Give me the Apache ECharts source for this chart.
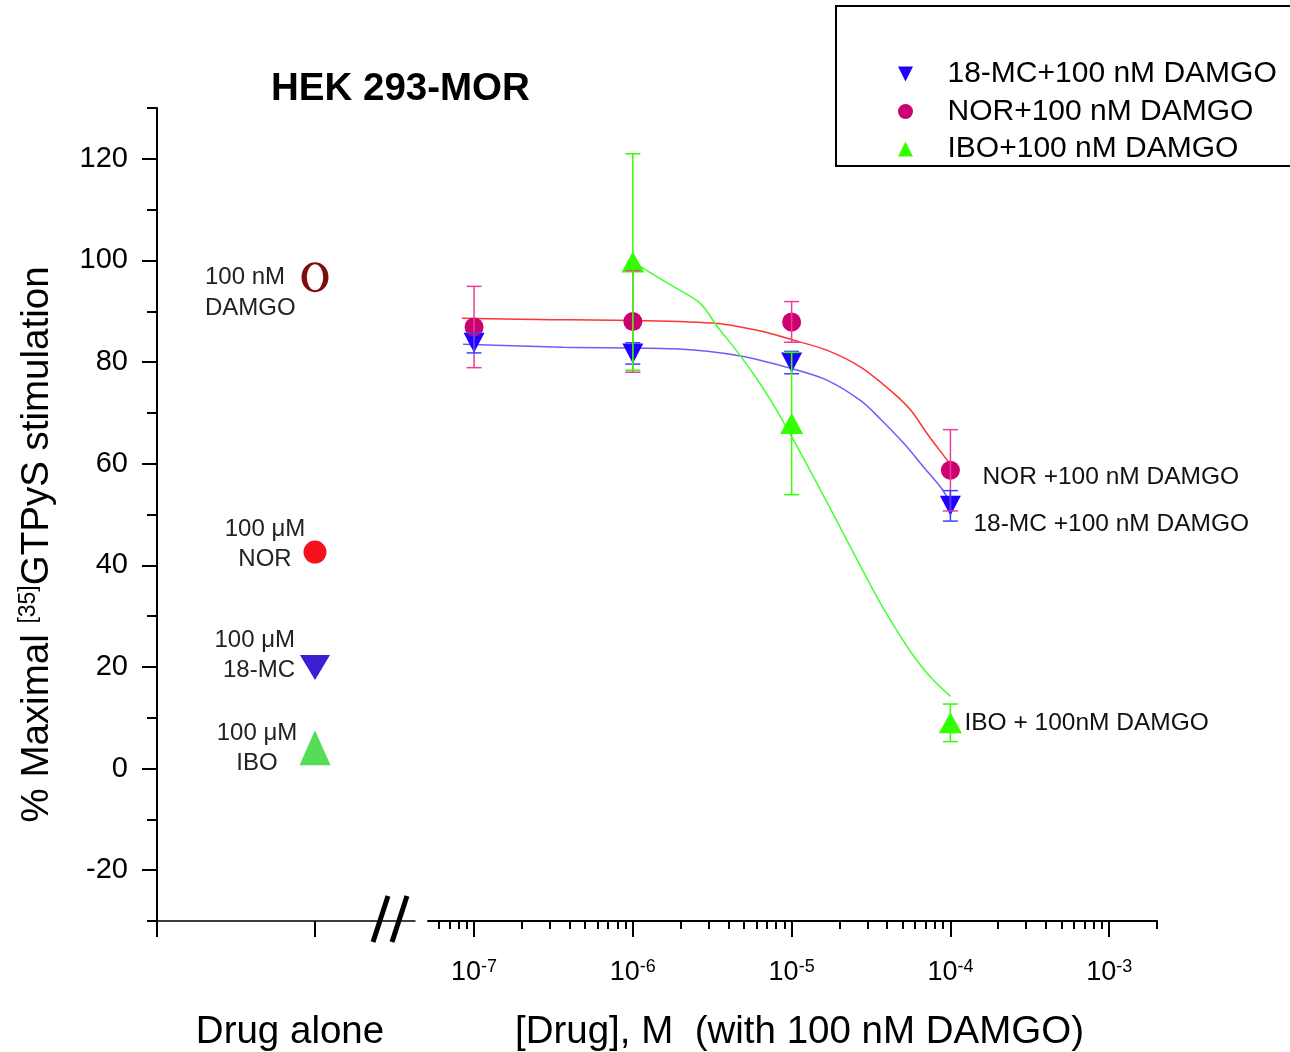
<!DOCTYPE html>
<html><head><meta charset="utf-8">
<script src="https://cdn.jsdelivr.net/npm/echarts@6/dist/echarts.min.js"></script>
<style>html,body{margin:0;padding:0;background:#fff}#c{width:1290px;height:1052px}</style>
</head><body><div id="c"></div>
<script>
// ---- data ----
const concentrations = [1e-7, 1e-6, 1e-5, 1e-4];
const norMean = [86.9, 88.0, 87.9, 58.7];
const norErr  = [8.0, 10.0, 4.0, 8.0];
const mcMean  = [83.8, 81.7, 79.9, 51.7];
const mcErr   = [2.0, 2.1, 2.2, 3.0];
const iboConc = [1e-6, 1e-5, 1e-4];
const iboMean = [99.7, 67.9, 9.0];
const iboErr  = [21.3, 14.0, 3.7];

// fitted curves as drawn in the figure (log10 M, %)
const norFitLogX = [-7.076, -6.603, -6.0, -5.467, -5.196, -4.987, -4.775, -4.565, -4.355, -4.249, -4.144, -4.018, -4.0];
const norFitY    = [88.6, 88.4, 88.2, 87.6, 86.1, 84.3, 82.3, 79.0, 73.8, 70.5, 65.8, 60.6, 59.8];
const mcFitLogX  = [-7.069, -6.438, -5.744, -5.322, -4.987, -4.775, -4.565, -4.438, -4.291, -4.165, -4.060, -4.0];
const mcFitY     = [83.5, 82.9, 82.6, 81.2, 78.6, 76.4, 72.4, 68.7, 63.9, 59.2, 55.3, 52.3];
const iboFitLogX = [-6.0, -5.779, -5.577, -5.464, -5.356, -5.230, -5.123, -5.041, -4.959, -4.864, -4.757, -4.650, -4.549, -4.442, -4.334, -4.233, -4.126, -4.0];
const iboFitY    = [99.7, 95.5, 91.6, 86.8, 82.6, 77.2, 72.0, 67.6, 63.0, 57.5, 51.2, 44.8, 38.8, 32.6, 27.0, 22.2, 18.0, 14.2];

// drug alone
const aloneNames  = ['DAMGO', 'NOR', '18-MC', 'IBO'];
const aloneDose   = ['100 nM', '100 μM', '100 μM', '100 μM'];
const aloneValues = [96.7, 42.6, 19.9, 4.1];

// ticks
const yTickValues  = [-20, 0, 20, 40, 60, 80, 100, 120];
const yMinorValues = [-30, -10, 10, 30, 50, 70, 90, 110, 130];
const xDecades     = [-7, -6, -5, -4, -3];
const minorMultipliers = [2, 3, 4, 5, 6, 7, 8, 9];

const seriesNames = ['18-MC+100 nM DAMGO', 'NOR+100 nM DAMGO', 'IBO+100 nM DAMGO'];

// ---- chart ----
const FONT = 'Liberation Sans, Arial, sans-serif';
const X_MIN = -7.29, X_MAX = Math.log10(2e-3);
const xMinor = [];
[-8, -7, -6, -5, -4, -3].forEach(d => minorMultipliers.forEach(m => {
  const v = d + Math.log10(m);
  if (v >= X_MIN - 1e-9 && v <= X_MAX + 1e-9) xMinor.push(v);
}));

function zip(a, b) { return a.map((v, i) => [v, b[i]]); }

function errorBars(name, xs, means, errs, color) {
  return {
    type: 'custom', name: name, xAxisIndex: 1, yAxisIndex: 2, z: 5, silent: true,
    data: xs.map((c, i) => [Math.log10(c), means[i] - errs[i], means[i] + errs[i]]),
    encode: { x: 0, y: [1, 2] },
    renderItem: (params, api) => {
      const lo = api.coord([api.value(0), api.value(1)]);
      const hi = api.coord([api.value(0), api.value(2)]);
      const hw = 7.5;
      const style = { stroke: color, lineWidth: 1.5, fill: null };
      return { type: 'group', children: [
        { type: 'line', shape: { x1: lo[0], y1: lo[1], x2: hi[0], y2: hi[1] }, style: style },
        { type: 'line', shape: { x1: lo[0] - hw, y1: lo[1], x2: lo[0] + hw, y2: lo[1] }, style: style },
        { type: 'line', shape: { x1: hi[0] - hw, y1: hi[1], x2: hi[0] + hw, y2: hi[1] }, style: style }
      ]};
    }
  };
}

function fitLine(name, xs, ys, color) {
  return { type: 'line', name: name, xAxisIndex: 1, yAxisIndex: 2, z: 2, silent: true,
    data: zip(xs, ys), showSymbol: false, symbol: 'none', smooth: 0.3,
    lineStyle: { color: color, width: 1.5 } };
}

function mainScatter(name, xs, means, symbol, size, color, labelText, labelOffset) {
  return {
    type: 'scatter', name: name, xAxisIndex: 1, yAxisIndex: 2, z: 4,
    symbol: symbol, symbolSize: size, itemStyle: { color: color, opacity: 1 },
    data: xs.map((c, i) => {
      const item = { value: [Math.log10(c), means[i]] };
      if (i === xs.length - 1) {
        item.label = { show: true, position: 'inside', align: 'left', verticalAlign: 'middle',
          offset: labelOffset, formatter: labelText, color: '#111', fontSize: 24.5, fontFamily: FONT };
      }
      return item;
    })
  };
}

const DOWN_TRI = 'path://M0,0 L10,0 L5,10 Z';
const UP_TRI = 'path://M5,0 L10,10 L0,10 Z';

// drug-alone markers
const ringPath = 'path://M0,15 A14,15 0 1,1 28,15 A14,15 0 1,1 0,15 Z M5.5,15 A8.5,13 0 1,0 22.5,15 A8.5,13 0 1,0 5.5,15 Z';
const aloneStyle = [
  { symbol: ringPath, size: [27, 30], color: '#7d0c0c', align: 'left', offset: [-110, 15.5], lh: 31 },
  { symbol: 'circle', size: 23, color: '#f4101c', align: 'center', offset: [-50, -8], lh: 30 },
  { symbol: DOWN_TRI, size: [30, 25], color: '#3d1fd2', align: 'right', offset: [-20, -12], lh: 30 },
  { symbol: UP_TRI, size: [31, 35], color: '#55dd55', align: 'center', offset: [-58, 1], lh: 30 }
];

const chart = echarts.init(document.getElementById('c'), null, { renderer: 'canvas' });
chart.setOption({
  animation: false,
  backgroundColor: '#fff',
  textStyle: { fontFamily: FONT },
  title: { text: 'HEK 293-MOR', left: 271, top: 70, padding: 0,
    textStyle: { fontSize: 38.5, fontWeight: 'bold', color: '#000', fontFamily: FONT } },
  legend: {
    data: seriesNames, orient: 'vertical', left: 836, top: 6,
    padding: [53, 18, 2, 62], itemWidth: 74, itemHeight: 15, itemGap: 7.5,
    textStyle: { fontSize: 30, color: '#000', lineHeight: 30, fontFamily: FONT },
    borderColor: '#000', borderWidth: 2, borderRadius: 0, selectedMode: false
  },
  grid: [
    { left: 157, top: 108, width: 258, height: 813, outerBoundsMode: 'none', containLabel: false },
    { left: 428, top: 108, width: 729, height: 813, outerBoundsMode: 'none', containLabel: false }
  ],
  xAxis: [
    { gridIndex: 0, type: 'value', min: 0, max: 258 / 158, position: 'bottom',
      axisLine: { onZero: false, lineStyle: { color: '#000', width: 1.5 } },
      axisTick: { customValues: [0, 1], length: 16, lineStyle: { color: '#000', width: 2 } },
      axisLabel: { show: false }, splitLine: { show: false },
      name: 'Drug alone', nameLocation: 'middle', nameGap: 92,
      nameTextStyle: { fontSize: 38.5, color: '#000', padding: [0, 0, 0, 8], fontFamily: FONT } },
    { gridIndex: 1, type: 'value', min: X_MIN, max: X_MAX, position: 'bottom',
      axisLine: { onZero: false, lineStyle: { color: '#000', width: 2 } },
      axisTick: { customValues: xDecades, length: 16, lineStyle: { color: '#000', width: 2 } },
      axisLabel: { customValues: xDecades, margin: 37, color: '#000',
        formatter: v => '{b|10}{s|' + v + '}',
        rich: { b: { fontSize: 27, lineHeight: 29, fontFamily: FONT, color: '#000' },
                s: { fontSize: 18, lineHeight: 18, verticalAlign: 'top', fontFamily: FONT, color: '#000' } } },
      splitLine: { show: false },
      name: '[Drug], M  (with 100 nM DAMGO)', nameLocation: 'middle', nameGap: 92,
      nameTextStyle: { fontSize: 38.5, color: '#000', padding: [0, 0, 0, 14], fontFamily: FONT } },
    { gridIndex: 1, type: 'value', min: X_MIN, max: X_MAX, position: 'bottom',
      axisLine: { show: false, onZero: false },
      axisTick: { customValues: xMinor, length: 8, lineStyle: { color: '#000', width: 2 } },
      axisLabel: { show: false }, splitLine: { show: false } }
  ],
  yAxis: [
    { gridIndex: 0, type: 'value', min: -30, max: 130, position: 'left',
      axisLine: { show: true, onZero: false, lineStyle: { color: '#000', width: 2 } },
      axisTick: { show: true, customValues: yTickValues, length: 15, lineStyle: { color: '#000', width: 2 } },
      axisLabel: { customValues: yTickValues, fontSize: 29, margin: 29, color: '#000', fontFamily: FONT },
      splitLine: { show: false },
      name: '{n|% Maximal }{s|[35]}{n|GTPyS stimulation}', nameLocation: 'middle', nameRotate: 90, nameGap: 100,
      nameTextStyle: { color: '#000', padding: [0, 60, 0, 0], rich: {
        n: { fontSize: 38.5, lineHeight: 40, fontFamily: FONT, color: '#000' },
        s: { fontSize: 23, lineHeight: 23, verticalAlign: 'top', fontFamily: FONT, color: '#000' } } } },
    { gridIndex: 0, type: 'value', min: -30, max: 130, position: 'left',
      axisLine: { show: false, onZero: false },
      axisTick: { show: true, customValues: yMinorValues, length: 10, lineStyle: { color: '#000', width: 2 } },
      axisLabel: { show: false }, splitLine: { show: false } },
    { gridIndex: 1, type: 'value', min: -30, max: 130, show: false, splitLine: { show: false } }
  ],
  graphic: [
    { type: 'line', shape: { x1: 373, y1: 942, x2: 388, y2: 896 }, style: { stroke: '#000', lineWidth: 5 }, z: 100 },
    { type: 'line', shape: { x1: 392, y1: 942, x2: 407, y2: 896 }, style: { stroke: '#000', lineWidth: 5 }, z: 100 }
  ],
  series: [
    {
      type: 'scatter', name: 'Drug alone', xAxisIndex: 0, yAxisIndex: 0, z: 4,
      data: aloneValues.map((v, i) => {
        const st = aloneStyle[i];
        return {
          value: [1, v], symbol: st.symbol, symbolSize: st.size,
          itemStyle: { color: st.color, opacity: 1 },
          label: { show: true, position: 'inside', align: st.align, verticalAlign: 'middle', offset: st.offset,
            formatter: aloneDose[i] + '\n' + aloneNames[i], color: '#222', fontSize: 24, lineHeight: st.lh, fontFamily: FONT }
        };
      })
    },
    fitLine('NOR fit', norFitLogX, norFitY, '#ff3333'),
    fitLine('18-MC fit', mcFitLogX, mcFitY, '#6f5cff'),
    fitLine('IBO fit', iboFitLogX, iboFitY, '#44ff33'),
    mainScatter(seriesNames[0], concentrations, mcMean, DOWN_TRI, [21, 20], '#2200ff', '18-MC +100 nM DAMGO', [23, 18]),
    mainScatter(seriesNames[1], concentrations, norMean, 'circle', 19, '#cc0070', 'NOR +100 nM DAMGO', [32, 7]),
    mainScatter(seriesNames[2], iboConc, iboMean, UP_TRI, [23, 21], '#33ff00', 'IBO + 100nM DAMGO', [14, 0]),
    errorBars('NOR err', concentrations, norMean, norErr, '#ee3d96'),
    errorBars('18-MC err', concentrations, mcMean, mcErr, '#3344ff'),
    errorBars('IBO err', iboConc, iboMean, iboErr, '#33ff00')
  ]
});
</script>
</body></html>
